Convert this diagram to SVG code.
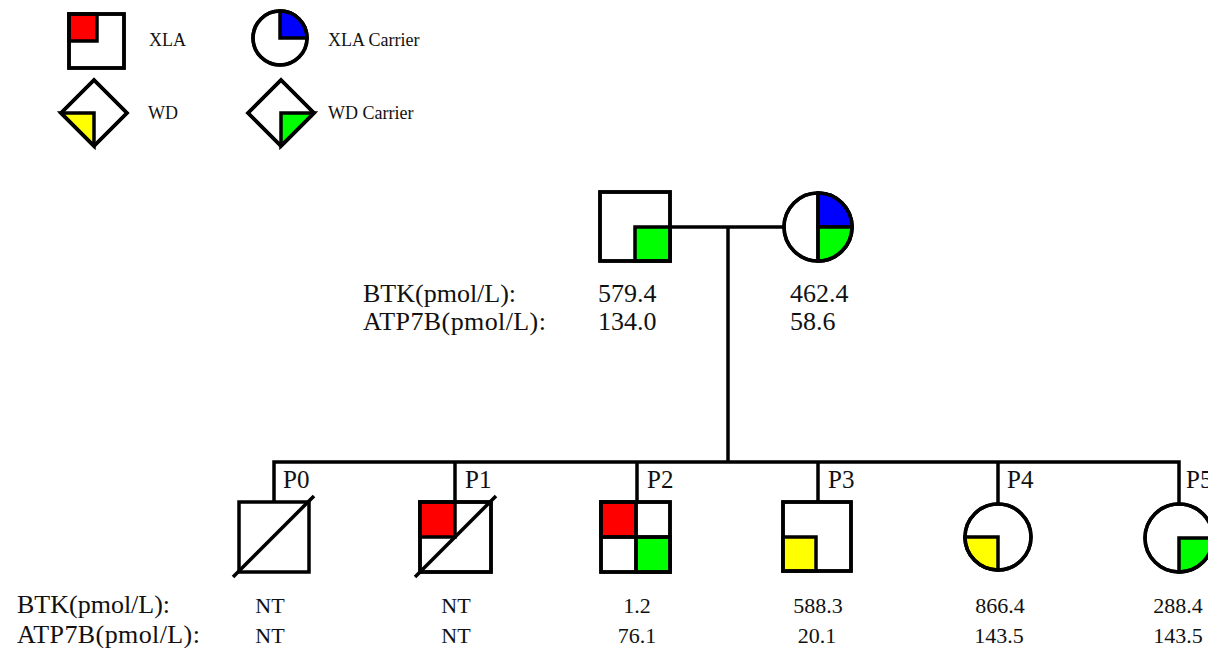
<svg xmlns="http://www.w3.org/2000/svg" width="1208" height="648" viewBox="0 0 1208 648">
<style>
.o{fill:#fff;stroke:#000;stroke-width:3.5}
.q{stroke:#000;stroke-width:3.5;stroke-linejoin:miter}
.r{fill:#ff0000}.g{fill:#00ff00}.b{fill:#0000ff}.y{fill:#ffff00}
.ln{fill:none;stroke:#000;stroke-width:3.5}
.t{font-family:"Liberation Serif","Times New Roman",serif;fill:#111}
.lg{font-size:18px}
.lb{font-size:26px}
.v{font-size:22px;text-anchor:middle}
.pv{font-size:26px}
.p{font-size:25px}
</style>
<rect width="1208" height="648" fill="#fff"/>
<g id="legend">
  <g id="leg-xla">
    <rect class="o" x="69" y="14" width="55" height="54"/>
    <rect class="q r" x="69" y="14" width="28" height="27"/>
    <rect x="69" y="14" width="55" height="54" fill="none" stroke="#000" stroke-width="3.5"/>
    <text class="t lg" x="149" y="46">XLA</text>
  </g>
  <g id="leg-xla-carrier">
    <circle class="o" cx="280" cy="38" r="27"/>
    <path class="q b" d="M280,38 L280,11 A27,27 0 0 1 307,38 Z"/>
    <circle cx="280" cy="38" r="27" fill="none" stroke="#000" stroke-width="3.5"/>
    <text class="t lg" x="328" y="46">XLA Carrier</text>
  </g>
  <g id="leg-wd">
    <polygon class="o" points="94,80 127,113 94,146 61,113"/>
    <polygon class="q y" points="61,113 94,113 94,146"/>
    <polygon points="94,80 127,113 94,146 61,113" fill="none" stroke="#000" stroke-width="3.5"/>
    <text class="t lg" x="148" y="119">WD</text>
  </g>
  <g id="leg-wd-carrier">
    <polygon class="o" points="281,80 314,113 281,146 248,113"/>
    <polygon class="q g" points="281,113 314,113 281,146"/>
    <polygon points="281,80 314,113 281,146 248,113" fill="none" stroke="#000" stroke-width="3.5"/>
    <text class="t lg" x="328" y="119">WD Carrier</text>
  </g>
</g>
<g id="connectors">
  <line class="ln" x1="670" y1="227" x2="784" y2="227"/>
  <line class="ln" x1="728" y1="227" x2="728" y2="462"/>
  <path class="ln" d="M274,502 V462 H1179 V504" stroke-linejoin="miter"/>
  <line class="ln" x1="455" y1="462" x2="455" y2="502"/>
  <line class="ln" x1="637" y1="462" x2="637" y2="502"/>
  <line class="ln" x1="818" y1="462" x2="818" y2="502"/>
  <line class="ln" x1="998" y1="462" x2="998" y2="504"/>
</g>
<g id="father">
  <rect class="o" x="600" y="192" width="70" height="69"/>
  <rect class="q g" x="635" y="227" width="35" height="34"/>
  <rect x="600" y="192" width="70" height="69" fill="none" stroke="#000" stroke-width="3.5"/>
  <text class="t pv" x="598" y="302">579.4</text>
  <text class="t pv" x="598" y="330">134.0</text>
</g>
<g id="mother">
  <circle class="o" cx="818" cy="227" r="34"/>
  <path class="q b" d="M818,227 L818,193 A34,34 0 0 1 852,227 Z"/>
  <path class="q g" d="M818,227 L852,227 A34,34 0 0 1 818,261 Z"/>
  <line class="ln" x1="818" y1="193" x2="818" y2="261"/>
  <circle cx="818" cy="227" r="34" fill="none" stroke="#000" stroke-width="3.5"/>
  <text class="t pv" x="790" y="302">462.4</text>
  <text class="t pv" x="790" y="330">58.6</text>
</g>
<g id="parent-labels">
  <text class="t lb" x="363" y="302">BTK(pmol/L):</text>
  <text class="t lb" x="363" y="330" letter-spacing="0.4">ATP7B(pmol/L):</text>
</g>
<g id="P0">
  <rect class="o" x="239" y="502" width="70" height="70"/>
  <line class="ln" x1="233" y1="577" x2="314" y2="496"/>
  <text class="t p" x="283" y="488">P0</text>
  <text class="t v" x="270" y="613">NT</text>
  <text class="t v" x="270" y="643">NT</text>
</g>
<g id="P1">
  <rect class="o" x="420" y="502" width="71" height="70"/>
  <rect class="q r" x="420" y="502" width="35" height="35"/>
  <rect x="420" y="502" width="71" height="70" fill="none" stroke="#000" stroke-width="3.5"/>
  <line class="ln" x1="415" y1="577" x2="496" y2="496"/>
  <text class="t p" x="465" y="488">P1</text>
  <text class="t v" x="456" y="613">NT</text>
  <text class="t v" x="456" y="643">NT</text>
</g>
<g id="P2">
  <rect class="o" x="601" y="502" width="69" height="70"/>
  <rect class="q r" x="601" y="502" width="35" height="35"/>
  <rect class="q g" x="636" y="537" width="34" height="35"/>
  <line class="ln" x1="636" y1="502" x2="636" y2="572"/>
  <line class="ln" x1="601" y1="537" x2="670" y2="537"/>
  <rect x="601" y="502" width="69" height="70" fill="none" stroke="#000" stroke-width="3.5"/>
  <text class="t p" x="647" y="488">P2</text>
  <text class="t v" x="637" y="613">1.2</text>
  <text class="t v" x="637" y="643">76.1</text>
</g>
<g id="P3">
  <rect class="o" x="783" y="502" width="68" height="69"/>
  <rect class="q y" x="783" y="537" width="33" height="34"/>
  <rect x="783" y="502" width="68" height="69" fill="none" stroke="#000" stroke-width="3.5"/>
  <text class="t p" x="828" y="488">P3</text>
  <text class="t v" x="818" y="613">588.3</text>
  <text class="t v" x="817" y="643">20.1</text>
</g>
<g id="P4">
  <circle class="o" cx="998" cy="537" r="33"/>
  <path class="q y" d="M998,537 L965,537 A33,33 0 0 0 998,570 Z"/>
  <circle cx="998" cy="537" r="33" fill="none" stroke="#000" stroke-width="3.5"/>
  <text class="t p" x="1007" y="488">P4</text>
  <text class="t v" x="1000" y="613">866.4</text>
  <text class="t v" x="999" y="643">143.5</text>
</g>
<g id="P5">
  <circle class="o" cx="1179" cy="538" r="34"/>
  <path class="q g" d="M1179,538 L1213,538 A34,34 0 0 1 1179,572 Z"/>
  <circle cx="1179" cy="538" r="34" fill="none" stroke="#000" stroke-width="3.5"/>
  <text class="t p" x="1186" y="488">P5</text>
  <text class="t v" x="1178" y="613">288.4</text>
  <text class="t v" x="1178" y="643">143.5</text>
</g>
<g id="child-labels">
  <text class="t lb" x="17" y="613">BTK(pmol/L):</text>
  <text class="t lb" x="17" y="643" letter-spacing="0.4">ATP7B(pmol/L):</text>
</g>
</svg>
